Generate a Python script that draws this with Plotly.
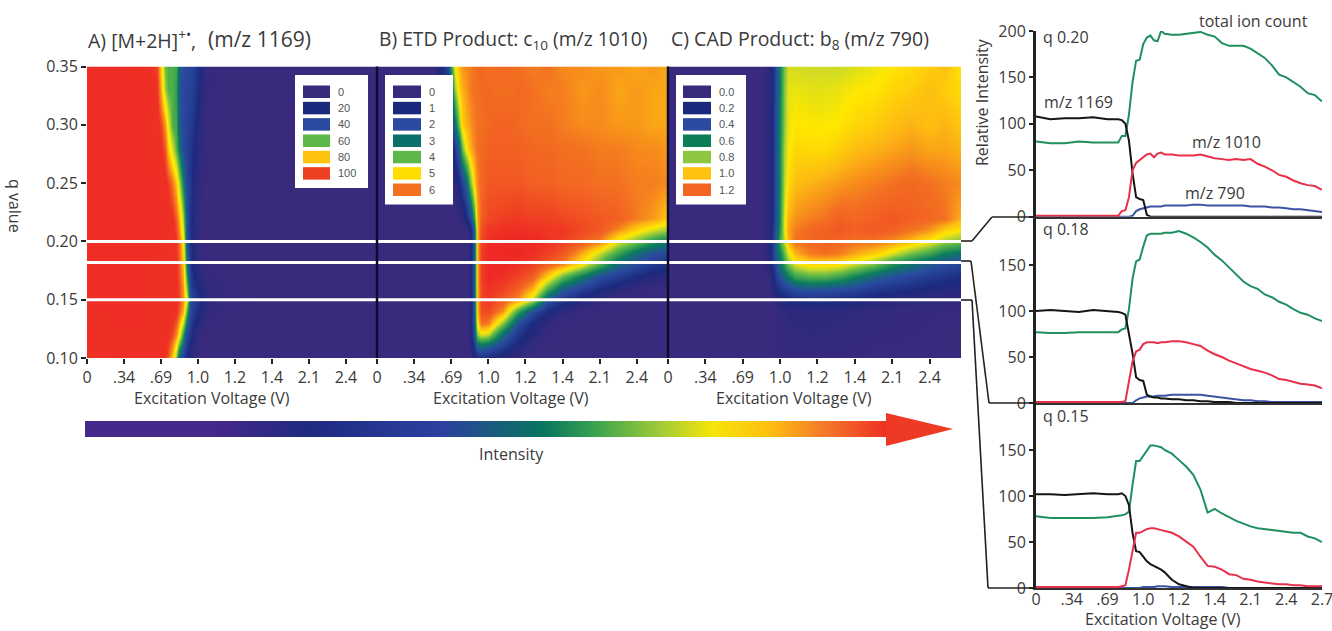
import plotly.graph_objects as go

W, H = 1332, 631
FONT = "Open Sans"
INK = "#3a3a3a"

# ---------- heat map data ----------
voltage_labels = ["0", ".34", ".69", "1.0", "1.2", "1.4", "2.1", "2.4"]
line_voltage_labels = ["0", ".34", ".69", "1.0", "1.2", "1.4", "2.1", "2.4", "2.7"]
q_ticks = [0.10, 0.15, 0.20, 0.25, 0.30, 0.35]
q_lines = [0.20, 0.182, 0.15]

a_x = [0,1,1.6,1.9,2.0,2.1,2.2,2.3,2.4,2.5,2.6,2.7,2.8,2.9,3.0,3.2,3.4,3.8,4.5,6,7.84]
a_q = [.10,.12,.14,.15,.16,.18,.20,.22,.25,.28,.30,.33,.35]
a_z = [
 [97,98,96,96,95,94,90,80,64,42,34,20,8,3,1,0,0,0,0,0,0],
 [98,97,98,97,96,96,95,92,86,75,56,36,26,14,6,1,0,0,0,0,0],
 [97,99,98,96,97,98,96,96,95,90,82,58,34,30,22,8,3,1,0,0,0],
 [98,100,98,97,98,97,96,97,96,92,85,70,36,34,26,14,7,3,0,0,0],
 [98,99,97,98,96,97,96,97,95,92,84,62,32,26,20,10,5,2,0,0,0],
 [100,98,99,97,98,96,97,96,95,90,80,48,26,15,8,3,1,0,0,0,0],
 [99,100,98,98,97,97,96,96,94,88,76,40,22,12,5,1,0,0,0,0,0],
 [100,98,99,98,97,97,96,95,90,82,66,40,24,12,6,1,0,0,0,0,0],
 [99,100,98,98,97,96,93,88,80,68,52,36,26,16,8,2,0,0,0,0,0],
 [100,99,99,97,95,90,80,70,60,50,38,32,26,20,10,3,1,0,0,0,0],
 [99,100,98,96,92,84,72,60,58,44,38,34,30,25,14,4,1,0,0,0,0],
 [99,98,98,94,82,66,60,60,56,43,38,36,34,30,22,6,2,0,0,0,0],
 [98,99,97,92,78,62,60,60,58,45,40,38,36,32,25,8,3,0,0,0,0],
]

b_x = [0,1.5,1.9,2.0,2.1,2.2,2.3,2.4,2.5,2.6,2.7,2.8,3.0,3.4,3.8,4.2,4.6,5,5.5,6,6.5,7,7.4,7.84]
b_q = [.10,.11,.12,.13,.14,.15,.16,.17,.18,.19,.20,.21,.22,.25,.28,.30,.33,.35]
b_z = [
 [0,0,0,0,0,0,0,0,0,.5,1,1.2,1,.5,.2,0,0,0,0,0,0,0,0,0],
 [0,0,0,0,0,0,0,0,.3,1.4,2.4,2.6,2.4,1.6,.7,.2,0,0,0,0,0,0,0,0],
 [0,0,0,0,0,0,0,0,.5,2,4.2,4.8,4.6,2.6,1.4,.6,.1,0,0,0,0,0,0,0],
 [0,0,0,0,0,0,0,0,.6,2.2,5,6,5.9,4.2,2,1,.3,0,0,0,0,0,0,0],
 [0,0,0,0,0,0,0,0,.6,2.2,5.3,6.4,6.5,5.7,3.6,2,1,.4,.1,0,0,0,0,0],
 [0,0,0,0,0,0,0,0,.6,2.2,5.4,6.5,6.7,6.3,5.8,4.6,2.2,1.4,.8,.3,.1,0,0,0],
 [0,0,0,0,0,0,0,0,.6,2.2,5.4,6.5,6.8,6.6,6.2,5.5,3.8,2.4,1.8,1.1,.6,.3,.1,0],
 [0,0,0,0,0,0,0,0,.6,2.2,5.4,6.6,6.9,6.8,6.6,6.2,5.2,4,3,2,1.6,1,.7,.5],
 [0,0,0,0,0,0,0,0,.6,2.2,5.4,6.6,6.9,6.9,6.8,6.6,6.2,5.8,5,3.8,2.5,2,1.5,1.2],
 [0,0,0,0,0,0,0,0,.6,2.2,5.4,6.6,6.9,6.9,6.9,6.8,6.6,6.3,5.6,4.6,3.6,2.6,2.1,1.8],
 [0,0,0,0,0,0,0,0,.6,2.2,5.4,6.5,6.8,6.9,6.9,6.9,6.8,6.6,6.3,5.9,4.8,4.1,3.4,3.0],
 [0,0,0,0,0,0,0,0,.7,2.4,5.4,6.4,6.7,6.8,6.8,6.8,6.7,6.7,6.5,6.3,5.8,5.2,4.8,4.4],
 [0,0,0,0,0,.2,.4,1,1.8,3.5,5.5,6.2,6.5,6.6,6.7,6.6,6.6,6.5,6.4,6.3,6.2,5.9,5.7,5.3],
 [0,0,0,0,.5,1,1.6,2.4,4.0,5.2,5.8,6.1,6.3,6.3,6.3,6.2,6.2,6.1,6.1,6.0,6.0,5.9,5.9,5.8],
 [0,0,0,.5,1.5,2.5,4.0,5.0,5.5,5.8,6.0,6.1,6.2,6.2,6.2,6.1,6.1,6.0,6.0,5.9,5.9,5.8,5.8,5.7],
 [0,0,.3,1.5,2.8,4.2,5.2,5.5,5.7,5.9,6.0,6.0,6.1,6.2,6.1,6.0,6.0,5.9,5.8,5.8,5.7,5.7,5.6,5.6],
 [0,0,1.2,2.5,4.4,5.2,5.5,5.7,5.9,6.0,6.0,6.1,6.1,6.0,6.1,6.0,5.9,5.9,5.7,5.8,5.6,5.7,5.6,5.6],
 [0,0,1.8,3.5,5.0,5.4,5.7,5.8,5.9,6.0,6.1,6.1,6.0,6.1,6.0,5.9,6.0,5.8,5.8,5.7,5.7,5.6,5.7,5.6],
]

c_x = [0,2.5,2.7,2.8,2.9,3.0,3.1,3.2,3.4,3.8,4.2,4.6,5,5.5,6,6.5,7,7.4,7.84]
c_q = [.10,.14,.15,.16,.17,.18,.19,.20,.21,.22,.25,.28,.30,.33,.35]
c_z = [
 [0,0,0,.01,.02,.03,.03,.03,.03,.03,.02,.02,.02,.01,.01,.01,.01,0,0],
 [0,0,0,.02,.03,.05,.06,.08,.09,.1,.1,.08,.07,.05,.04,.03,.02,.02,.01],
 [0,0,0,.05,.1,.14,.16,.2,.22,.24,.24,.22,.2,.16,.12,.1,.08,.06,.05],
 [0,0,.02,.12,.22,.28,.32,.36,.42,.46,.44,.42,.38,.3,.26,.22,.18,.15,.12],
 [0,0,.05,.2,.32,.42,.52,.6,.72,.78,.78,.72,.62,.5,.42,.36,.3,.26,.22],
 [0,0,.1,.28,.42,.55,.68,.82,.95,1.02,1.02,1.0,.92,.82,.66,.55,.45,.4,.35],
 [0,0,.12,.32,.5,.62,.8,.95,1.1,1.18,1.2,1.18,1.12,1.05,.95,.82,.72,.6,.55],
 [0,0,.12,.32,.5,.75,.9,1.1,1.2,1.22,1.24,1.22,1.2,1.2,1.15,1.08,.98,.88,.82],
 [0,0,.1,.28,.45,.7,.95,1.12,1.18,1.22,1.24,1.26,1.24,1.26,1.24,1.2,1.15,1.05,1.0],
 [0,0,.1,.25,.42,.68,.95,1.1,1.15,1.18,1.2,1.24,1.22,1.24,1.26,1.24,1.22,1.2,1.1],
 [0,0,.1,.25,.42,.66,.9,1.02,1.08,1.1,1.12,1.14,1.16,1.18,1.2,1.22,1.2,1.18,1.16],
 [0,0,.1,.25,.42,.66,.88,.98,1.03,1.02,1.02,1.05,1.08,1.1,1.12,1.14,1.12,1.12,1.1],
 [0,0,.1,.25,.42,.65,.85,.97,1.0,.99,.99,1.0,1.03,1.05,1.08,1.1,1.08,1.1,1.06],
 [0,0,.1,.25,.4,.62,.84,.96,.97,.96,.96,.97,.99,1.0,1.03,1.05,1.08,1.05,1.02],
 [0,0,.1,.25,.4,.62,.82,.94,.94,.93,.93,.93,.95,.97,1.0,1.02,1.05,1.08,1.0],
]

# ---------- line data ----------
v = [0,.4,.8,1.2,1.6,2.0,2.3,2.4,2.5,2.6,2.7,2.8,2.9,3.0,3.1,3.2,3.3,3.4,3.5,3.6,
     3.8,4.0,4.2,4.4,4.6,4.8,5.0,5.2,5.4,5.6,5.8,6.0,6.2,6.4,6.6,6.8,7.0,7.2,7.4,7.6,7.8,8.0]

q20_total = [81,79,79,81,80,80,80,87,87,110,145,168,169,186,193,195,190,189,200,197,
             196,196,197,198,199,196,194,187,184,184,184,181,176,171,163,153,150,145,140,133,131,124]
q20_1169 = [108,105,106,106,107,105,105,104,100,82,47,21,19,18,2,0,0,0,0,0,
            0,0,0,0,0,0,0,0,0,0,0,0,0,0,0,0,0,0,0,0,0,0]
q20_1010 = [1,1,1,1,1,1,1,6,7,21,50,58,61,65,67,68,64,68,69,67,
            67,66,66,66,67,65,63,62,61,62,61,62,57,54,50,45,43,39,36,34,33,29]
q20_790 = [0,0,0,0,0,0,0,0,0,0,1,6,8,9,10,11,11,11,11,12,
           12,12,12,13,13,12,12,12,12,12,12,11,11,11,10,10,9,8,8,7,6,5]

q18_total = [77,76,76,77,77,77,77,80,81,102,135,154,156,170,182,184,184,184,184,185,
             185,187,184,180,175,169,161,155,147,140,132,127,124,118,115,110,107,102,98,96,92,89]
q18_1169 = [100,101,100,99,101,100,99,98,96,75,54,28,25,24,9,7,6,6,5,5,
            4,4,3,3,2,2,1,1,1,0,0,0,0,0,0,0,0,0,0,0,0,0]
q18_1010 = [1,1,1,1,1,1,1,1,2,24,45,56,58,64,66,66,66,65,66,66,
            67,67,66,64,62,57,53,50,46,43,40,37,35,33,30,26,25,23,21,20,19,16]
q18_790 = [0,0,0,0,0,0,0,0,0,0,0,3,5,6,7,7,7,8,8,8,
           9,9,9,9,9,8,7,6,5,4,3,3,2,2,1,1,1,1,1,1,1,1]

q15_total = [78,76,76,76,76,77,78,79,80,83,112,138,138,144,149,155,155,154,153,150,
             146,139,132,123,107,82,86,81,77,73,70,67,65,64,63,62,61,60,60,56,54,50]
q15_1169 = [102,102,101,102,103,102,102,103,100,90,60,40,39,34,29,26,24,22,20,17,
            9,4,2,0,0,0,0,0,0,0,0,0,0,0,0,0,0,0,0,0,0,0]
q15_1010 = [1,1,1,1,1,1,1,2,3,20,42,60,60,62,64,65,65,64,63,62,
            60,56,50,45,34,24,23,20,15,14,10,9,7,6,5,4,4,3,3,2,2,2]
q15_790 = [0,0,0,0,0,0,0,0,0,0,0,0,0,1,1,1,1,2,2,2,
           1,1,1,1,1,1,1,1,0,0,0,0,0,0,0,0,0,0,0,0,0,0]

# ---------- legends / colours ----------
legend_a = ["0", "20", "40", "60", "80", "100"]
legend_b = ["0", "1", "2", "3", "4", "5", "6"]
legend_c = ["0.0", "0.2", "0.4", "0.6", "0.8", "1.0", "1.2"]
legend_a_colors = ["#3a2a7e", "#1c2a7e", "#2a4ba0", "#5cb848", "#ffc20e", "#ee4023"]
legend_b_colors = ["#3a2a7e", "#1c2a7e", "#2a4ba0", "#0a6f6a", "#5cb848", "#ffdd00", "#f37021"]
legend_c_colors = ["#3a2a7e", "#1c2a7e", "#2a4ba0", "#0a7d56", "#8dc63f", "#ffc20e", "#f26522"]

scale_a = [[0, "#3a2a7e"], [.12, "#2a2a7e"], [.2, "#1c2a7e"], [.4, "#2a4ba0"], [.5, "#0a7d5e"], [.6, "#4fb04a"],
           [.68, "#c8d92b"], [.75, "#fff200"], [.8, "#ffc20e"], [.87, "#f5791f"], [.94, "#ee3124"], [1, "#ee2d24"]]
scale_bc = [[0, "#3a2a7e"], [.1, "#26297c"], [.143, "#1c2a7e"], [.286, "#2a4ba0"], [.43, "#0a7d5e"], [.57, "#5cb848"],
            [.66, "#c8d92b"], [.71, "#ffe800"], [.78, "#fdb913"], [.857, "#f37021"], [1, "#ed2024"]]
arrow_stops = [0, .16, .28, .44, .57, .64, .72, .78, .85, .92, 1]
arrow_scale = [[0, "#46278a"], [.16, "#46278a"], [.28, "#1f2a80"], [.44, "#2c3f9f"], [.57, "#08755f"], [.64, "#3fa64c"],
               [.72, "#a7cc36"], [.78, "#f5e50a"], [.85, "#fdc010"], [.92, "#f5792a"], [1, "#ee2d24"]]

def px(x): return x / W
def py(y): return 1 - y / H

fig = go.Figure()
layout_axes = {}
shapes = []
annots = []

def text(x, y, s, size=16, anchor="left", angle=0, color=INK, family=FONT):
    annots.append(dict(x=px(x), y=py(y), xref="paper", yref="paper", text=s, showarrow=False, xanchor=anchor,
                       yanchor="middle", textangle=angle, font=dict(size=size, color=color, family=family)))

def ax_name(i, kind):
    return f"{kind}{i}" if i > 1 else kind

def ax_key(i, kind):
    return f"{kind}axis{i}" if i > 1 else f"{kind}axis"

heat_panels = [
    (a_x, a_q, a_z, 100, scale_a, 87, 377),
    (b_x, b_q, b_z, 7, scale_bc, 377, 668),
    (c_x, c_q, c_z, 1.4, scale_bc, 668, 961),
]
for i, (x, y, z, zmax, cs, left, right) in enumerate(heat_panels, start=1):
    fig.add_trace(go.Heatmap(x=x, y=y, z=z, zmin=0, zmax=zmax, zsmooth="best", colorscale=cs, showscale=False,
                             xaxis=ax_name(i, "x"), yaxis=ax_name(i, "y"), hoverinfo="skip"))
    layout_axes[ax_key(i, "x")] = dict(domain=[px(left), px(right)], range=[0, 7.84], anchor=ax_name(i, "y"),
        automargin=False, tickmode="array", tickvals=list(range(8)), ticktext=voltage_labels, ticks="outside",
        ticklen=5, tickwidth=1.5, tickcolor="#222", tickfont=dict(size=16, color=INK, family=FONT),
        showgrid=False, zeroline=False, showline=False)
    layout_axes[ax_key(i, "y")] = dict(domain=[py(358), py(66.5)], range=[0.10, 0.35], anchor=ax_name(i, "x"),
        automargin=False, tickmode="array", tickvals=q_ticks, ticktext=[f"{t:.2f}" for t in q_ticks],
        showticklabels=i == 1, ticks="outside" if i == 1 else "", ticklen=5, tickwidth=1.5, tickcolor="#222",
        tickfont=dict(size=16, color=INK, family=FONT), showgrid=False, zeroline=False, showline=False)

# white q markers across the heat maps
for q in q_lines:
    shapes.append(dict(type="line", xref="paper", yref="y", x0=px(87), x1=px(961), y0=q, y1=q,
                       line=dict(color="white", width=3)))
# panel separators
for sx in (377, 668):
    shapes.append(dict(type="line", xref="paper", yref="paper", x0=px(sx), x1=px(sx), y0=py(66.5), y1=py(358),
                       line=dict(color="#0c0c2c", width=2.5)))

# legends
def legend(box, sw_left, sw_right, text_x, labels, colors):
    l, t, r, b = box
    shapes.append(dict(type="rect", xref="paper", yref="paper", x0=px(l), x1=px(r), y0=py(t), y1=py(b),
                       fillcolor="white", line=dict(width=0)))
    for k, (lab, col) in enumerate(zip(labels, colors)):
        top = 85.5 + 16.33 * k
        shapes.append(dict(type="rect", xref="paper", yref="paper", x0=px(sw_left), x1=px(sw_right),
                           y0=py(top), y1=py(top + 12.5), fillcolor=col, line=dict(width=0)))
        text(text_x, top + 6.3, lab, size=11, color="#555", family="Liberation Sans")

legend((295, 75, 368, 188), 303, 330, 336, legend_a, legend_a_colors)
legend((385, 75, 453, 204.5), 393, 421, 427, legend_b, legend_b_colors)
legend((676, 75, 746, 204.5), 683, 711, 717, legend_c, legend_c_colors)

# line panels
line_panels = [
    (4, 216.7, 31, 200, [0, 50, 100, 150, 200], q20_total, q20_1169, q20_1010, q20_790),
    (5, 403, 219, 200, [0, 50, 100, 150], q18_total, q18_1169, q18_1010, q18_790),
    (6, 588, 404, 200, [0, 50, 100, 150], q15_total, q15_1169, q15_1010, q15_790),
]
for i, bottom, top, ymax, yt, tot, m1169, m1010, m790 in line_panels:
    for series, col in ((tot, "#1f8f5f"), (m790, "#3c53a4"), (m1169, "#151515"), (m1010, "#e7304a")):
        fig.add_trace(go.Scatter(x=v, y=series, mode="lines", line=dict(color=col, width=2), cliponaxis=False,
                                 xaxis=ax_name(i, "x"), yaxis=ax_name(i, "y"), hoverinfo="skip", showlegend=False))
    is_bottom = i == 6
    layout_axes[ax_key(i, "x")] = dict(domain=[px(1036), px(1322)], range=[0, 8], anchor=ax_name(i, "y"),
        automargin=False, tickmode="array", tickvals=list(range(9)), ticktext=line_voltage_labels,
        showticklabels=is_bottom, ticks="", ticklabeloverflow="allow", ticklabelstandoff=-4,
        tickfont=dict(size=16, color=INK, family=FONT), showgrid=False,
        zeroline=False, showline=True, linecolor="#333", linewidth=2)
    layout_axes[ax_key(i, "y")] = dict(domain=[py(bottom), py(top)], range=[0, ymax], anchor=ax_name(i, "x"),
        automargin=False, tickmode="array", tickvals=yt, ticks="outside", ticklen=4, tickwidth=1.5, tickcolor="#222",
        tickfont=dict(size=16, color=INK, family=FONT), showgrid=False, zeroline=False,
        showline=True, linecolor="#222", linewidth=3)

# connectors from the heat maps to the line panels
connectors = ["M961,241 L972,241 L992,217 L1036,217",
              "M961,261 L971,261 L989,403 L1036,403",
              "M961,300 L972,300 L988,588 L1036,588"]
for path in connectors:
    pts = [tuple(float(n) for n in p[1:].split(",")) for p in path.split(" ")]
    for (x0, y0), (x1, y1) in zip(pts, pts[1:]):
        shapes.append(dict(type="line", xref="paper", yref="paper", x0=px(x0), x1=px(x1), y0=py(y0), y1=py(y1),
                           line=dict(color="#222", width=1.6)))

# intensity arrow
arrow_z = [arrow_stops]
fig.add_trace(go.Heatmap(x=[s for s in arrow_stops], y=[0], z=arrow_z, zmin=0, zmax=1, zsmooth="best",
                         colorscale=arrow_scale, showscale=False, xaxis="x7", yaxis="y7", hoverinfo="skip"))
layout_axes["xaxis7"] = dict(domain=[px(85), px(888)], range=[0, 1], visible=False, anchor="y7", automargin=False)
layout_axes["yaxis7"] = dict(domain=[py(437), py(421)], range=[-.5, .5], visible=False, anchor="x7", automargin=False)
shapes.append(dict(type="path", xref="paper", yref="paper", fillcolor="#ee3a24", line=dict(width=0),
                   path=f"M {px(886)},{py(413)} L {px(953)},{py(429)} L {px(886)},{py(446)} Z"))

# text
text(86, 39, "A) [M+2H]<sup>+•</sup>,", 19.5)
text(206, 39, "(m/z 1169)", 21)
text(377, 39, "B) ETD Product: c<sub>10</sub> (m/z 1010)", 19.3)
text(669, 39, "C) CAD Product: b<sub>8</sub> (m/z 790)", 19.5)
text(15, 206, "q value", 16, anchor="center", angle=90)
text(212, 398, "Excitation Voltage (V)", 16, anchor="center")
text(511, 398, "Excitation Voltage (V)", 16, anchor="center")
text(794, 398, "Excitation Voltage (V)", 16, anchor="center")
text(511, 454, "Intensity", 16, anchor="center")
text(982, 102, "Relative Intensity", 16, anchor="center", angle=-90)
text(1163, 619, "Excitation Voltage (V)", 16, anchor="center")
text(1197, 21, "total ion count", 16)
text(1041, 37, "q 0.20", 16)
text(1042, 102, "m/z 1169", 16)
text(1190, 142, "m/z 1010", 16)
text(1183, 193, "m/z 790", 16)
text(1041, 229, "q 0.18", 16)
text(1041, 416, "q 0.15", 16)

fig.update_layout(width=W, height=H, margin=dict(l=0, r=0, t=0, b=0, autoexpand=False), paper_bgcolor="white",
                  plot_bgcolor="white", showlegend=False, shapes=shapes, annotations=annots, font=dict(family=FONT),
                  **layout_axes)

fig.write_html("out.html", config={"displayModeBar": False},
               post_script="document.body.style.margin='0';document.body.style.overflow='hidden';")
